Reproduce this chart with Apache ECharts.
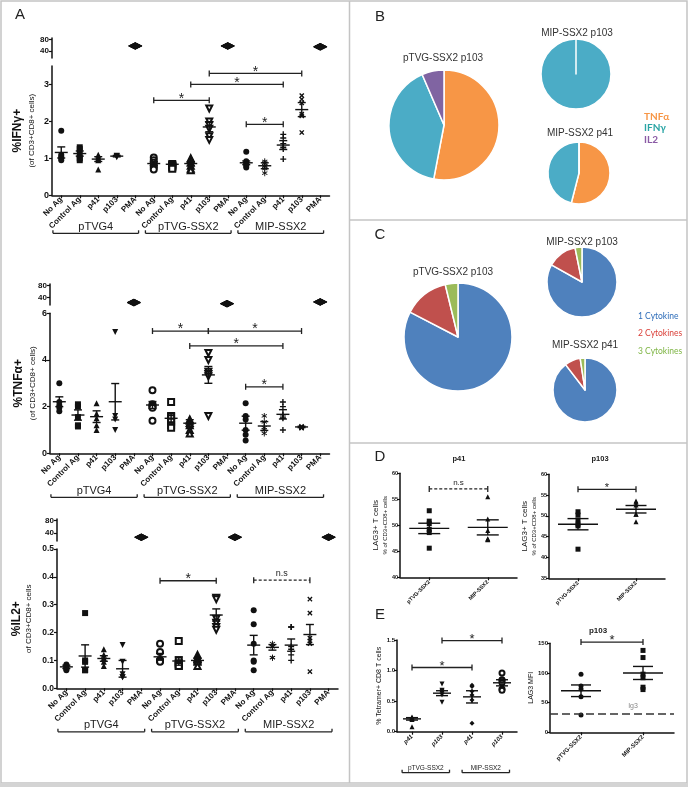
<!DOCTYPE html>
<html><head><meta charset="utf-8">
<script src="https://cdn.jsdelivr.net/npm/echarts@6.0.0/dist/echarts.min.js"></script>
<style>html,body{margin:0;padding:0;background:#fff}#c{width:688px;height:787px}</style>
</head><body><div id="c"></div>
<script>
// ================= DATA =================
const catsA = ['No Ag','Control Ag','p41','p103','PMA','No Ag','Control Ag','p41','p103','PMA','No Ag','Control Ag','p41','p103','PMA'];
const groupsA = [[0,4,'pTVG4'],[5,9,'pTVG-SSX2'],[10,14,'MIP-SSX2']];
const pmaIdx = [4,9,14];

const ifnPoints = [
 [1.75,1.1,1.05,1.0,0.95],[1.3,1.25,1.1,1.0,0.95],[1.1,1.05,1.0,0.95,0.7],[1.07,1.06,1.05,1.03],[58,57,56,57,58],
 [1.02,0.95,0.88,0.8,0.75,0.7],[0.85,0.82,0.8,0.78,0.75,0.72],[1.0,0.97,0.88,0.8,0.72,0.68],[2.35,2.0,1.9,1.8,1.6,1.5],[58,57,56,57,58],
 [1.18,0.92,0.88,0.85,0.8,0.75],[0.92,0.88,0.8,0.72,0.6],[1.65,1.55,1.4,1.3,1.25,0.98],[2.7,2.6,2.5,2.2,2.15,1.7],[55,54,53,54,55]
];
const ifnMean = [1.16,1.13,0.98,1.06,null,0.86,0.84,0.86,1.85,null,0.88,0.8,1.36,2.32,null];
const ifnSem  = [0.15,0.07,0.065,0.02,null,0.05,0.03,0.05,0.13,null,0.05,0.08,0.12,0.19,null];
const ifnSig  = [[5,8,2.57,'*',0],[7,12,3.0,'*',0],[8,13,3.3,'*',0],[10,12,1.92,'*',0]];

const tnfPoints = [
 [3.0,2.2,2.05,1.95,1.8],[2.1,2.0,1.55,1.2,1.15],[2.15,1.7,1.5,1.2,1.0],[5.2,1.6,1.45,1.0],[23,24,22,23,24],
 [2.7,2.1,2.05,2.0,1.95,1.4],[2.2,1.6,1.5,1.35,1.2,1.1],[1.45,1.4,1.3,1.2,1.0,0.85],[4.3,4.0,3.5,3.4,3.3,1.6],[19,20,18,19,20],
 [2.15,1.6,1.45,1.0,0.8,0.55],[1.6,1.35,1.1,1.0,0.85],[2.2,2.0,1.65,1.55,1.5,1.0],[1.15,1.12,1.1,1.1,1.08],[25,26,24,25,26]
];
const tnfMean = [2.21,1.64,1.57,2.21,null,2.07,1.5,1.29,3.36,null,1.29,1.17,1.67,1.13,null];
const tnfSem  = [0.21,0.22,0.25,0.78,null,0.15,0.21,0.15,0.36,null,0.3,0.19,0.2,0.03,null];
const tnfSig  = [[5,8,5.24,'*',0],[8,13,5.24,'*',0],[7,12,4.6,'*',0],[10,12,2.85,'*',0]];

const il2Points = [
 [0.085,0.08,0.078,0.072,0.07,0.065],[0.27,0.1,0.095,0.065,0.065],[0.14,0.12,0.11,0.105,0.095,0.08],[0.155,0.095,0.05,0.04,0.04],[27,28,26,27,28],
 [0.16,0.13,0.1,0.1,0.1,0.095],[0.17,0.1,0.09,0.085,0.08,0.08],[0.12,0.11,0.105,0.1,0.095,0.08],[0.325,0.32,0.25,0.235,0.22,0.21],[27,28,26,27,28],
 [0.28,0.23,0.16,0.1,0.095,0.065],[0.16,0.15,0.15,0.11,0.11],[0.22,0.22,0.15,0.14,0.12,0.1],[0.32,0.27,0.18,0.17,0.16,0.06],[27,28,26,27,28]
];
const il2Mean = [0.077,0.116,0.107,0.07,null,0.113,0.098,0.1,0.263,null,0.155,0.147,0.155,0.193,null];
const il2Sem  = [0.006,0.04,0.01,0.03,null,0.012,0.015,0.008,0.022,null,0.035,0.01,0.022,0.036,null];
const il2Sig  = [[5,8,0.386,'*',0],[10,13,0.388,'n.s',1]];

const pieB_labels = ['TNFα','IFNγ','IL2'];
const pieB_pTVG103 = [53,40.5,6.5];
const pieB_MIP103  = [0,100,0];
const pieB_MIP41   = [54,46,0];
const pieC_labels = ['1 Cytokine','2 Cytokines','3 Cytokines'];
const pieC_pTVG103 = [82.6,13.6,3.8];
const pieC_MIP103  = [83.1,13.7,3.2];
const pieC_MIP41   = [89.6,8.0,2.4];

const catsD = ['pTVG-SSX2','MIP-SSX2'];
const dP41Points = [[52.8,50.8,50.3,49.2,48.6,45.6],[55.5,51.2,49.0,47.3,47.2,47.4]];
const dP41Mean = [49.4,49.6];
const dP41Sem  = [1.0,1.45];
const dP41Sig  = [[0,1,57.0,'n.s',1]];
const dP103Points = [[51.0,50.2,49.0,48.0,47.6,42.0],[53.6,53.3,52.6,50.4,50.4,48.6]];
const dP103Mean = [48.0,51.6];
const dP103Sem  = [1.35,0.9];
const dP103Sig  = [[0,1,56.4,'*',0]];

const catsE = ['p41','p103','p41','p103'];
const groupsE = [[0,1,'pTVG-SSX2'],[2,3,'MIP-SSX2']];
const eTetPoints = [[0.24,0.23,0.22,0.21,0.2,0.08],[0.78,0.68,0.66,0.63,0.6,0.48],[0.76,0.74,0.66,0.6,0.52,0.14],[0.96,0.85,0.84,0.8,0.7,0.68]];
const eTetMean = [0.21,0.63,0.57,0.8];
const eTetSem  = [0.02,0.04,0.1,0.05];
const eTetSig  = [[0,2,1.05,'*',0],[1,3,1.49,'*',0]];
const catsE2 = ['pTVG-SSX2','MIP-SSX2'];
const eMfiPoints = [[98,78,73,60,29],[138,126,98,92,76,72]];
const eMfiMean = [70,100];
const eMfiSem  = [9.8,11];
const eMfiSig  = [[0,1,152,'*',0]];
const eIgG = 32;

// ================= STYLE / LAYOUT =================
const FF = 'Liberation Sans, Arial, Helvetica, sans-serif';
const FN = 'Liberation Sans Narrow, Lato, sans-serif';
const INK = '#111';
function starPath(){
  const hl=5, hw=0.75, parts=[];
  [0,60,120].forEach(a=>{
    const r=a*Math.PI/180, dx=Math.sin(r), dy=-Math.cos(r), px=Math.cos(r), py=Math.sin(r);
    const p=[[dx*hl+px*hw,dy*hl+py*hw],[dx*hl-px*hw,dy*hl-py*hw],[-dx*hl-px*hw,-dy*hl-py*hw],[-dx*hl+px*hw,-dy*hl+py*hw]];
    parts.push('M'+p.map(q=>q[0].toFixed(3)+','+q[1].toFixed(3)).join('L')+'Z');
  });
  return 'path://'+parts.join(' ');
}
const STAR = starPath();
const PLUS = 'path://M-0.9,-4L0.9,-4L0.9,-0.9L4,-0.9L4,0.9L0.9,0.9L0.9,4L-0.9,4L-0.9,0.9L-4,0.9L-4,-0.9L-0.9,-0.9Z';
const PMA = {s:'diamond', size:[14,7]};
const symA = [
 {s:'circle'},{s:'rect'},{s:'triangle'},{s:'triangle',r:180},PMA,
 {s:'emptyCircle'},{s:'emptyRect'},{s:'emptyTriangle'},{s:'emptyTriangle',r:180},PMA,
 {s:'circle'},{s:STAR},{s:PLUS},{s:PLUS,r:45},PMA
];

const G = [
 {left:52, top:38, width:277.5, height:20},     //0 IFN up
 {left:52, top:66, width:277.5, height:129.3},  //1 IFN low
 {left:50, top:284, width:279.5, height:21},    //2 TNF up
 {left:50, top:313.3, width:279.5, height:140}, //3 TNF low
 {left:57, top:519, width:281, height:22},      //4 IL2 up
 {left:57, top:549, width:281, height:139.3},   //5 IL2 low
 {left:400, top:473.3, width:117, height:104},  //6 D p41
 {left:549, top:474.3, width:116, height:104},  //7 D p103
 {left:397, top:640, width:120, height:91.7},   //8 E tet
 {left:550, top:643.3, width:124, height:89}    //9 E mfi
];

const grid = G.map(g=>Object.assign({outerBoundsMode:'none', containLabel:false}, g));
const xAxis = [], yAxis = [], series = [];

function axisLineStyle(w){ return {show:true, lineStyle:{color:INK, width:w||1.5}}; }

function addX(gi, cats, show, lab){
  xAxis.push({type:'category', gridIndex:gi, data:cats, show:show, boundaryGap:true,
    axisLine:axisLineStyle(1.5), axisTick:{show:true, alignWithLabel:true, length:3, lineStyle:{color:INK,width:1.2}},
    axisLabel:Object.assign({interval:0, rotate:45, color:INK, fontFamily:FF, fontWeight:'bold', fontSize:8, margin:3}, lab||{}),
    splitLine:{show:false}});
}
function addY(gi, min, max, interval, vals, lab, name, nameGap, rich){
  yAxis.push({type:'value', gridIndex:gi, min:min, max:max, interval:interval,
    axisLine:axisLineStyle(1.5),
    axisTick:{show:true, length:3, customValues:vals, lineStyle:{color:INK,width:1.2}},
    axisLabel:Object.assign({customValues:vals, color:INK, fontFamily:FF, fontWeight:'bold', fontSize:9, margin:3}, lab||{}),
    splitLine:{show:false},
    name:name||'', nameLocation:'middle', nameRotate:90, nameGap:nameGap||10,
    nameTextStyle:{fontFamily:FF, color:INK, rich:rich||{}}});
}

function scatter(gi, idx, vals, sym, size, bw){
  const empty = typeof sym.s==='string' && sym.s.indexOf('empty')===0;
  series.push({type:'scatter', xAxisIndex:gi, yAxisIndex:gi, silent:true, z:3,
    data: vals.map(v=>[idx,v]), symbol:sym.s, symbolRotate:sym.r||0, symbolSize:sym.size||size,
    symbolKeepAspect:true,
    itemStyle:{color:INK, borderColor:INK, borderWidth: empty?(bw||1.4):0, opacity:1}});
}
function meanSem(gi, means, sems, mw, cw){
  const d=[]; means.forEach((m,i)=>{ if(m!==null) d.push([i,m,sems[i]]); });
  series.push({type:'custom', xAxisIndex:gi, yAxisIndex:gi, silent:true, z:4, data:d,
    renderItem:(p,api)=>{
      const x=api.value(0), m=api.value(1), s=api.value(2);
      const pm=api.coord([x,m]), pt=api.coord([x,m+s]), pb=api.coord([x,m-s]);
      const st={stroke:INK, lineWidth:1.4};
      return {type:'group', children:[
        {type:'line', shape:{x1:pm[0]-mw/2,y1:pm[1],x2:pm[0]+mw/2,y2:pm[1]}, style:st},
        {type:'line', shape:{x1:pt[0],y1:pt[1],x2:pb[0],y2:pb[1]}, style:st},
        {type:'line', shape:{x1:pt[0]-cw/2,y1:pt[1],x2:pt[0]+cw/2,y2:pt[1]}, style:st},
        {type:'line', shape:{x1:pb[0]-cw/2,y1:pb[1],x2:pb[0]+cw/2,y2:pb[1]}, style:st}
      ]};
    }});
}
function sig(gi, list, fsStar, fsNs){
  series.push({type:'custom', xAxisIndex:gi, yAxisIndex:gi, silent:true, z:5, clip:false,
    data:list.map(s=>[s[0],s[2]]),
    renderItem:(p,api)=>{
      const s=list[p.dataIndex];
      const a=api.coord([s[0],s[2]]), b=api.coord([s[1],s[2]]);
      const st={stroke:'#222', lineWidth:1.3, lineDash:s[4]?[3,2]:null};
      const cs={stroke:'#222', lineWidth:1.3};
      const isStar = s[3]==='*';
      return {type:'group', children:[
        {type:'line', shape:{x1:a[0],y1:a[1],x2:b[0],y2:b[1]}, style:st},
        {type:'line', shape:{x1:a[0],y1:a[1]-3,x2:a[0],y2:a[1]+3}, style:cs},
        {type:'line', shape:{x1:b[0],y1:b[1]-3,x2:b[0],y2:b[1]+3}, style:cs},
        {type:'text', x:(a[0]+b[0])/2, y:a[1]-(isStar?1.5:2), style:{text:s[3], fill:'#222',
          fontFamily:FF, fontSize:isStar?fsStar:fsNs, align:'center', verticalAlign:isStar?'middle':'bottom'}}
      ]};
    }});
}
function groups(gi, list, y0, dy, l, r, fs){
  series.push({type:'custom', xAxisIndex:gi, yAxisIndex:gi, silent:true, z:5, clip:false,
    data:list.map(g=>[g[0],y0]),
    renderItem:(p,api)=>{
      const g=list[p.dataIndex];
      const a=api.coord([g[0],y0]), b=api.coord([g[1],y0]);
      const bw=api.size([1,0])[0];
      const x1=a[0]-l*bw, x2=b[0]+r*bw, y=a[1]+dy;
      const st={stroke:'#222', lineWidth:1.3};
      return {type:'group', children:[
        {type:'line', shape:{x1:x1,y1:y,x2:x2,y2:y}, style:st},
        {type:'line', shape:{x1:x1,y1:y,x2:x1,y2:y-3}, style:st},
        {type:'line', shape:{x1:x2,y1:y,x2:x2,y2:y-3}, style:st},
        {type:'text', x:(x1+x2)/2, y:y-1, style:{text:g[2], fill:'#222', fontFamily:FF, fontSize:fs, align:'center', verticalAlign:'bottom'}}
      ]};
    }});
}

// ---------- Panel A ----------
const richA = (lh)=>({a:{fontSize:12, fontWeight:'bold', lineHeight:lh||16, color:INK, fontFamily:FF}, b:{fontSize:8, lineHeight:11, color:INK, fontFamily:FF}});
function panelA(up, lo, pts, means, sems, sigs, ymax, ivl, vals, name, nameGap, fmt, grpDy, lh){
  addX(up, catsA, false); addY(up, 15, 85, 5, [40,80], {fontSize:8});
  addX(lo, catsA, true);
  addY(lo, 0, ymax, ivl, vals, fmt?{formatter:fmt, fontSize:8.5}:{}, name, nameGap, richA(lh));
  pts.forEach((v,i)=>{ scatter(pmaIdx.indexOf(i)>=0?up:lo, i, v, symA[i], 6); });
  meanSem(lo, means, sems, 13, 8);
  sig(lo, sigs, 14, 9);
  groups(lo, groupsA, 0, grpDy, 0.45, 0.18, 11);
}
panelA(0,1, ifnPoints, ifnMean, ifnSem, ifnSig, 3.5, 1, [0,1,2,3], '{a|%IFNγ+}\n{b|(of CD3+CD8+ cells)}', 15, null, 38);
panelA(2,3, tnfPoints, tnfMean, tnfSem, tnfSig, 6, 2, [0,2,4,6], '{a|%TNFα+}\n{b|(of CD3+CD8+ cells)}', 12, null, 44);
panelA(4,5, il2Points, il2Mean, il2Sem, il2Sig, 0.5, 0.1, [0,0.1,0.2,0.3,0.4,0.5], '{a|%IL2+}\n{b|of CD3+CD8+ cells}', 23, v=>v.toFixed(1), 43.5, 12);

// ---------- Panel D ----------
const richD = {a:{fontSize:8, lineHeight:10, color:INK, fontFamily:FF}, b:{fontSize:6, lineHeight:8, color:INK, fontFamily:FF}};
addX(6, catsD, true, {fontSize:5.5, margin:4});
addY(6, 40, 60, 5, [40,45,50,55,60], {fontSize:5.5, margin:2}, '{a|LAG3+ T cells}\n{b|% of CD3+CD8+ cells}', 8, richD);
dP41Points.forEach((v,i)=>scatter(6, i, v, {s:['rect','triangle'][i]}, 5));
meanSem(6, dP41Mean, dP41Sem, 40, 22); sig(6, dP41Sig, 11, 8);
addX(7, catsD, true, {fontSize:5.5, margin:4});
addY(7, 35, 60, 5, [35,40,45,50,55,60], {fontSize:5.5, margin:2}, '{a|LAG3+ T cells}\n{b|% of CD3+CD8+ cells}', 8, richD);
dP103Points.forEach((v,i)=>scatter(7, i, v, {s:['rect','triangle'][i]}, 5));
meanSem(7, dP103Mean, dP103Sem, 40, 21); sig(7, dP103Sig, 11, 8);

// ---------- Panel E ----------
addX(8, catsE, true, {fontSize:6, margin:4, fontStyle:'italic'});
addY(8, 0, 1.5, 0.5, [0,0.5,1,1.5], {fontSize:6, margin:2, formatter:v=>v.toFixed(1)}, '{a|% Tetramer+ CD8 T cells}', 10, {a:{fontSize:7, color:INK, fontFamily:FF}});
eTetPoints.forEach((v,i)=>scatter(8, i, v, [{s:'triangle'},{s:'triangle',r:180},{s:'diamond'},{s:'emptyCircle'}][i], 5, 1.3));
meanSem(8, eTetMean, eTetSem, 18, 12); sig(8, eTetSig, 13, 8);
groups(8, groupsE, 0, 41, 0.33, 0.25, 6.5);
addX(9, catsE2, true, {fontSize:6, margin:4});
addY(9, 0, 150, 50, [0,50,100,150], {fontSize:6, margin:2}, '{a|LAG3 MFI}', 13, {a:{fontSize:7, color:INK, fontFamily:FF}});
eMfiPoints.forEach((v,i)=>scatter(9, i, v, {s:['circle','rect'][i]}, 5));
series[series.length-1].markLine = {silent:true, symbol:'none', animation:false,
  data:[{yAxis:eIgG}], lineStyle:{type:[8,4], color:'#333', width:1.6},
  label:{show:true, formatter:'Ig3', position:'insideMiddleTop', color:'#888', fontSize:7, fontFamily:FF, offset:[21,1]}};
meanSem(9, eMfiMean, eMfiSem, 40, 20); sig(9, eMfiSig, 13, 8);

// ---------- Pies ----------
const colB = ['#F79646','#4BACC6','#8064A2'];
const colC = ['#4F81BD','#C0504D','#9BBB59'];
function pie(center, r, labels, vals, cols){
  series.push({type:'pie', center:center, radius:r, startAngle:90, clockwise:true, silent:true, animation:false,
    label:{show:false}, labelLine:{show:false}, minAngle:0, avoidLabelOverlap:false,
    itemStyle:{borderColor:'#fff', borderWidth:1.5},
    data:labels.map((n,i)=>({name:n, value:vals[i], itemStyle:{color:cols[i]}}))});
}
pie([444,125], 55, pieB_labels, pieB_pTVG103, colB);
pie([576,74], 35, pieB_labels, pieB_MIP103, colB);
pie([579,173], 31, pieB_labels, pieB_MIP41, colB);
pie([458,337], 54, pieC_labels, pieC_pTVG103, colC);
pie([582,282], 35, pieC_labels, pieC_MIP103, colC);
pie([585,390], 32, pieC_labels, pieC_MIP41, colC);

const legTxtB = ['#F79646','#2AA5A5','#8B5BA5'];
const legTxtC = ['#2F6EBA','#DA3F38','#7FB545'];
const legend = [
 {orient:'vertical', left:638, top:111, padding:0, itemWidth:0, itemHeight:8, itemGap:0, selectedMode:false, icon:'rect',
  textStyle:{fontSize:10, lineHeight:11.5, fontWeight:'bold', fontFamily:FN},
  data:pieB_labels.map((n,i)=>({name:n, textStyle:{color:legTxtB[i]}}))},
 {orient:'vertical', left:632, top:310.5, padding:0, itemWidth:0, itemHeight:8, itemGap:6.5, selectedMode:false, icon:'rect',
  textStyle:{fontSize:8.5, lineHeight:11, fontFamily:FN},
  data:pieC_labels.map((n,i)=>({name:n, textStyle:{color:legTxtC[i]}}))}
];

// ---------- Decorations ----------
const LG = '#c4c4c4';
function T(x,y,t,fs,extra){ return {type:'text', x:x, y:y, silent:true, style:Object.assign({text:t, fontSize:fs, fontFamily:FF, fill:'#222', align:'center', verticalAlign:'middle'}, extra||{})}; }
const graphic = [
 {type:'rect', silent:true, shape:{x:1,y:1,width:686,height:782}, style:{fill:'transparent', stroke:LG, lineWidth:1.5}},
 {type:'rect', silent:true, shape:{x:0,y:783,width:688,height:4}, style:{fill:'#d4d4d4'}},
 {type:'line', silent:true, shape:{x1:349.5,y1:1,x2:349.5,y2:783}, style:{stroke:LG, lineWidth:1.5}},
 {type:'line', silent:true, shape:{x1:349.5,y1:220,x2:687,y2:220}, style:{stroke:LG, lineWidth:1.5}},
 {type:'line', silent:true, shape:{x1:349.5,y1:443,x2:687,y2:443}, style:{stroke:LG, lineWidth:1.5}},
 T(20,15,'A',15), T(380,17,'B',15), T(380,235,'C',15), T(380,457,'D',15), T(380,615,'E',15),
 T(443,58,'pTVG-SSX2 p103',10,{fill:'#333'}), T(577,33,'MIP-SSX2 p103',10,{fill:'#333'}), T(580,133,'MIP-SSX2 p41',10,{fill:'#333'}),
 T(453,272,'pTVG-SSX2 p103',10,{fill:'#333'}), T(582,242,'MIP-SSX2 p103',10,{fill:'#333'}), T(585,345,'MIP-SSX2 p41',10,{fill:'#333'}),
 T(459,459,'p41',7.5,{fontWeight:'bold'}), T(600,459,'p103',7.5,{fontWeight:'bold'}), T(598,631,'p103',8,{fontWeight:'bold'})
];

const chart = echarts.init(document.getElementById('c'), null, {renderer:'canvas'});
chart.setOption({animation:false, backgroundColor:'#fff', textStyle:{fontFamily:FF},
  grid:grid, xAxis:xAxis, yAxis:yAxis, series:series, legend:legend, graphic:graphic, tooltip:{show:false}});
</script></body></html>
